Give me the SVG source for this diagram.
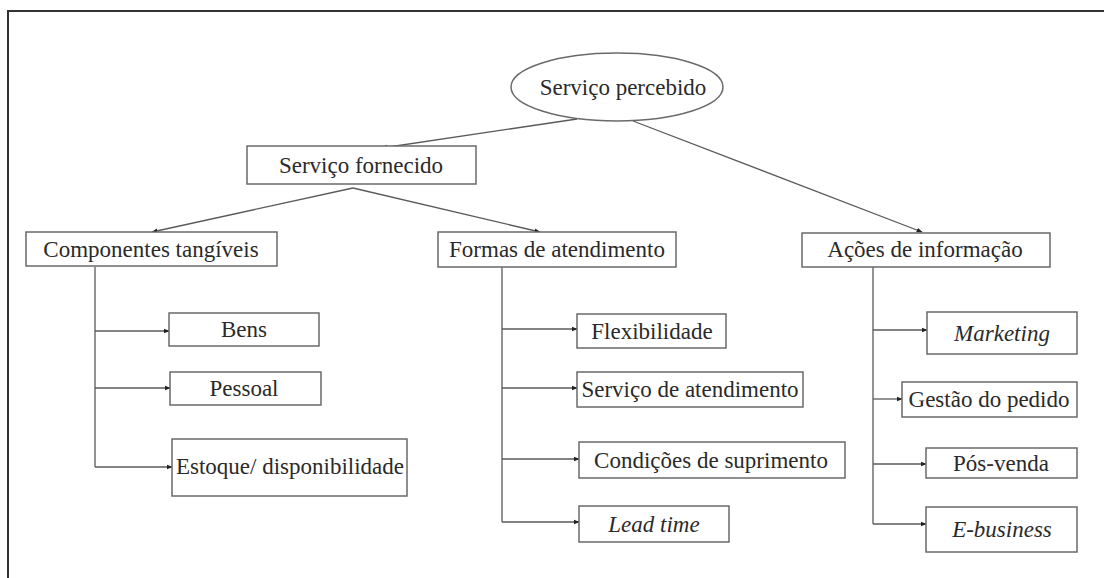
<svg xmlns="http://www.w3.org/2000/svg" width="1104" height="578" viewBox="0 0 1104 578">
  <style>
    .box { fill: #ffffff; stroke: #6a6a6a; stroke-width: 1.5; }
    .lbl { font-family: 'Liberation Serif', 'Times New Roman', 'DejaVu Serif', serif; font-size: 23px; fill: #2a2a2a; text-anchor: middle; }
    .it { font-style: italic; }
    .ln { fill: none; stroke: #5a5a5a; stroke-width: 1.3; }
    .arr { marker-end: url(#tip); }
  </style>
  <defs>
    <marker id="tip" viewBox="0 0 10 10" refX="9" refY="5" markerWidth="6" markerHeight="6" markerUnits="userSpaceOnUse" orient="auto">
      <path d="M0,1 L10,5 L0,9 Z" fill="#222"/>
    </marker>
  </defs>

  <rect x="0" y="0" width="1104" height="578" fill="#ffffff"/>
  <!-- page frame -->
  <path d="M1104,11 H8 V578" fill="none" stroke="#333" stroke-width="2"/>

  <!-- connectors -->
  <g id="connectors">
    <line class="ln arr" x1="577" y1="119" x2="382" y2="148"/>
    <line class="ln arr" x1="633" y1="121" x2="922" y2="232"/>
    <line class="ln arr" x1="353" y1="188" x2="152" y2="232"/>
    <line class="ln arr" x1="353" y1="188" x2="540" y2="232"/>

    <line class="ln" x1="95" y1="267" x2="95" y2="467"/>
    <line class="ln arr" x1="95" y1="331" x2="169" y2="331"/>
    <line class="ln arr" x1="95" y1="388" x2="170" y2="388"/>
    <line class="ln arr" x1="95" y1="467" x2="172" y2="467"/>

    <line class="ln" x1="502" y1="267" x2="502" y2="522"/>
    <line class="ln arr" x1="502" y1="329" x2="577" y2="329"/>
    <line class="ln arr" x1="502" y1="388" x2="577" y2="388"/>
    <line class="ln arr" x1="502" y1="459" x2="579" y2="459"/>
    <line class="ln arr" x1="502" y1="522" x2="579" y2="522"/>

    <line class="ln" x1="873" y1="267" x2="873" y2="524"/>
    <line class="ln arr" x1="873" y1="330" x2="927" y2="330"/>
    <line class="ln arr" x1="873" y1="399" x2="902" y2="399"/>
    <line class="ln arr" x1="873" y1="464" x2="926" y2="464"/>
    <line class="ln arr" x1="873" y1="524" x2="926" y2="524"/>
  </g>

  <g id="servico-percebido">
    <ellipse class="box" cx="617" cy="87" rx="106" ry="34"/>
    <text class="lbl" x="623" y="95" font-family="Liberation Serif, serif">Serviço percebido</text>
  </g>
  <g id="servico-fornecido">
    <rect class="box" x="247" y="146" width="229" height="38"/>
    <text class="lbl" x="361" y="173" font-family="Liberation Serif, serif">Serviço fornecido</text>
  </g>

  <g id="componentes-tangiveis">
    <rect class="box" x="26" y="232" width="251" height="34"/>
    <text class="lbl" x="151" y="257" font-family="Liberation Serif, serif">Componentes tangíveis</text>
  </g>
  <g id="formas-de-atendimento">
    <rect class="box" x="438" y="232" width="238" height="35"/>
    <text class="lbl" x="557" y="257" font-family="Liberation Serif, serif">Formas de atendimento</text>
  </g>
  <g id="acoes-de-informacao">
    <rect class="box" x="802" y="233" width="248" height="34"/>
    <text class="lbl" x="925" y="257" font-family="Liberation Serif, serif">Ações de informação</text>
  </g>

  <g id="bens">
    <rect class="box" x="169" y="313" width="150" height="33"/>
    <text class="lbl" x="244" y="337" font-family="Liberation Serif, serif">Bens</text>
  </g>
  <g id="pessoal">
    <rect class="box" x="170" y="372" width="151" height="33"/>
    <text class="lbl" x="244" y="396" font-family="Liberation Serif, serif">Pessoal</text>
  </g>
  <g id="estoque">
    <rect class="box" x="172" y="439" width="235" height="57"/>
    <text class="lbl" x="290" y="474" font-family="Liberation Serif, serif">Estoque/ disponibilidade</text>
  </g>

  <g id="flexibilidade">
    <rect class="box" x="577" y="314" width="149" height="34"/>
    <text class="lbl" x="652" y="339" font-family="Liberation Serif, serif">Flexibilidade</text>
  </g>
  <g id="servico-de-atendimento">
    <rect class="box" x="577" y="372" width="226" height="35"/>
    <text class="lbl" x="690" y="397" font-family="Liberation Serif, serif">Serviço de atendimento</text>
  </g>
  <g id="condicoes-de-suprimento">
    <rect class="box" x="579" y="442" width="266" height="36"/>
    <text class="lbl" x="711" y="468" font-family="Liberation Serif, serif">Condições de suprimento</text>
  </g>
  <g id="lead-time">
    <rect class="box" x="579" y="506" width="150" height="36"/>
    <text class="lbl it" x="654" y="532" font-family="Liberation Serif, serif">Lead time</text>
  </g>

  <g id="marketing">
    <rect class="box" x="927" y="312" width="150" height="42"/>
    <text class="lbl it" x="1002" y="341" font-family="Liberation Serif, serif">Marketing</text>
  </g>
  <g id="gestao-do-pedido">
    <rect class="box" x="902" y="382" width="175" height="35"/>
    <text class="lbl" x="989" y="407" font-family="Liberation Serif, serif">Gestão do pedido</text>
  </g>
  <g id="pos-venda">
    <rect class="box" x="926" y="448" width="151" height="30"/>
    <text class="lbl" x="1001" y="471" font-family="Liberation Serif, serif">Pós-venda</text>
  </g>
  <g id="e-business">
    <rect class="box" x="926" y="507" width="151" height="45"/>
    <text class="lbl it" x="1002" y="537" font-family="Liberation Serif, serif">E-business</text>
  </g>
</svg>
